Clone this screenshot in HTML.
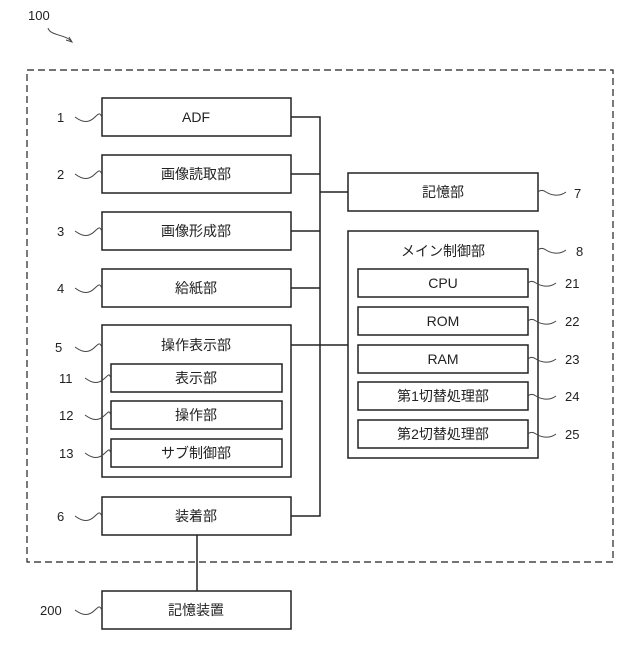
<!DOCTYPE html>
<html><head><meta charset="utf-8"><style>
body{margin:0;background:#fff}
svg text{font-family:"Liberation Sans","Noto Sans CJK JP",sans-serif;font-size:14px;fill:#222}
</style></head><body>
<svg width="640" height="640" viewBox="0 0 640 640" xmlns="http://www.w3.org/2000/svg">
<g fill="none" stroke="#222" stroke-width="1.5">
<rect x="27" y="70" width="586" height="492" stroke-dasharray="7,4" stroke-width="1.2"/>
<rect x="102" y="98" width="189" height="38"/>
<rect x="102" y="155" width="189" height="38"/>
<rect x="102" y="212" width="189" height="38"/>
<rect x="102" y="269" width="189" height="38"/>
<rect x="102" y="325" width="189" height="152"/>
<rect x="111" y="364" width="171" height="28"/>
<rect x="111" y="401" width="171" height="28"/>
<rect x="111" y="439" width="171" height="28"/>
<rect x="102" y="497" width="189" height="38"/>
<rect x="102" y="591" width="189" height="38"/>
<rect x="348" y="173" width="190" height="38"/>
<rect x="348" y="231" width="190" height="227"/>
<rect x="358" y="269" width="170" height="28"/>
<rect x="358" y="307" width="170" height="28"/>
<rect x="358" y="345" width="170" height="28"/>
<rect x="358" y="382" width="170" height="28"/>
<rect x="358" y="420" width="170" height="28"/>
<path d="M291 117H320V516H291M291 174H320M291 231H320M291 288H320M291 345H348M320 192H348M197 535V591"/>
</g>
<g fill="none" stroke="#444" stroke-width="1">
<path d="M75 117c8 6 14 6 20 0s5-2 7 0"/>
<path d="M75 174c8 6 14 6 20 0s5-2 7 0"/>
<path d="M75 231c8 6 14 6 20 0s5-2 7 0"/>
<path d="M75 288c8 6 14 6 20 0s5-2 7 0"/>
<path d="M75 347c8 6 14 6 20 0s5-2 7 0"/>
<path d="M75 516c8 6 14 6 20 0s5-2 7 0"/>
<path d="M75 610c8 6 14 6 20 0s5-2 7 0"/>
<path d="M85 378c8 6 14 6 20 0s4-2 6 0"/>
<path d="M85 415c8 6 14 6 20 0s4-2 6 0"/>
<path d="M85 453c8 6 14 6 20 0s4-2 6 0"/>
<path d="M538 192c2-2 5-2 8 0s12 6 20 0"/>
<path d="M538 250c2-2 5-2 8 0s12 6 20 0"/>
<path d="M528 283c2-2 5-2 8 0s12 6 20 0"/>
<path d="M528 321c2-2 5-2 8 0s12 6 20 0"/>
<path d="M528 359c2-2 5-2 8 0s12 6 20 0"/>
<path d="M528 396c2-2 5-2 8 0s12 6 20 0"/>
<path d="M528 434c2-2 5-2 8 0s12 6 20 0"/>
<path d="M48 28c2 8 18 6 24 14M66 40l6 2-3-5"/>
</g>
<g text-anchor="middle">
<text x="196" y="122">ADF</text>
<text x="196" y="179">画像読取部</text>
<text x="196" y="236">画像形成部</text>
<text x="196" y="293">給紙部</text>
<text x="196" y="350">操作表示部</text>
<text x="196" y="383">表示部</text>
<text x="196" y="420">操作部</text>
<text x="196" y="458">サブ制御部</text>
<text x="196" y="521">装着部</text>
<text x="196" y="615">記憶装置</text>
<text x="443" y="197">記憶部</text>
<text x="443" y="256">メイン制御部</text>
<text x="443" y="288">CPU</text>
<text x="443" y="326">ROM</text>
<text x="443" y="364">RAM</text>
<text x="443" y="401">第1切替処理部</text>
<text x="443" y="439">第2切替処理部</text>
</g>
<g font-size="13">
<text x="57" y="122" style="font-size:13px">1</text>
<text x="57" y="179" style="font-size:13px">2</text>
<text x="57" y="236" style="font-size:13px">3</text>
<text x="57" y="293" style="font-size:13px">4</text>
<text x="55" y="352" style="font-size:13px">5</text>
<text x="57" y="521" style="font-size:13px">6</text>
<text x="59" y="383" style="font-size:13px">11</text>
<text x="59" y="420" style="font-size:13px">12</text>
<text x="59" y="458" style="font-size:13px">13</text>
<text x="40" y="615" style="font-size:13px">200</text>
<text x="28" y="20" style="font-size:13px">100</text>
<text x="574" y="198" style="font-size:13px">7</text>
<text x="576" y="256" style="font-size:13px">8</text>
<text x="565" y="288" style="font-size:13px">21</text>
<text x="565" y="326" style="font-size:13px">22</text>
<text x="565" y="364" style="font-size:13px">23</text>
<text x="565" y="401" style="font-size:13px">24</text>
<text x="565" y="439" style="font-size:13px">25</text>
</g>
</svg>
</body></html>
